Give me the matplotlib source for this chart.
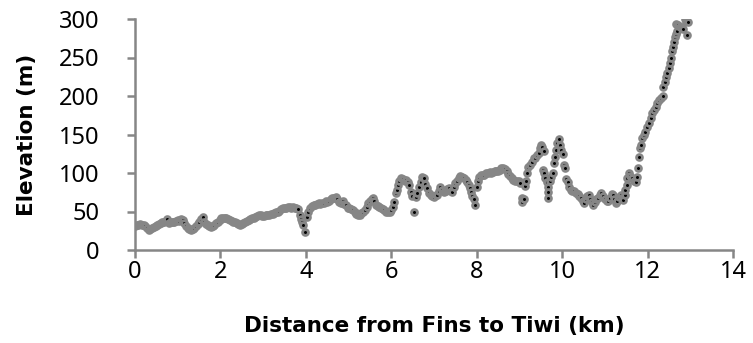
import matplotlib
matplotlib.use("Agg")
import matplotlib.pyplot as plt

distance_km = [
    0.00, 0.04, 0.08, 0.12, 0.16, 0.20, 0.24, 0.28, 0.32, 0.36, 0.40, 0.44, 0.48, 0.52, 0.56, 0.60,
    0.64, 0.68, 0.72, 0.76, 0.80, 0.84, 0.88, 0.92, 0.96, 1.00, 1.04, 1.08, 1.12, 1.15, 1.19, 1.23,
    1.27, 1.31, 1.35, 1.39, 1.43, 1.47, 1.51, 1.55, 1.59, 1.62, 1.66, 1.70, 1.74, 1.78, 1.82, 1.86,
    1.90, 1.94, 1.98, 2.02, 2.06, 2.10, 2.14, 2.18, 2.22, 2.26, 2.30, 2.34, 2.38, 2.42, 2.46, 2.50,
    2.54, 2.58, 2.62, 2.66, 2.70, 2.74, 2.78, 2.82, 2.86, 2.90, 2.94, 2.98, 3.02, 3.06, 3.10, 3.14,
    3.18, 3.22, 3.26, 3.30, 3.34, 3.38, 3.42, 3.46, 3.50, 3.54, 3.58, 3.62, 3.66, 3.70, 3.74, 3.78,
    3.82, 3.86, 3.89, 3.92, 3.94, 3.97, 4.02, 4.06, 4.10, 4.14, 4.18, 4.22, 4.26, 4.30, 4.34, 4.38,
    4.42, 4.46, 4.50, 4.54, 4.58, 4.62, 4.66, 4.70, 4.74, 4.78, 4.82, 4.86, 4.90, 4.94, 4.98, 5.02,
    5.06, 5.10, 5.14, 5.18, 5.22, 5.26, 5.30, 5.34, 5.38, 5.42, 5.46, 5.50, 5.54, 5.57, 5.60, 5.64,
    5.68, 5.72, 5.76, 5.80, 5.84, 5.88, 5.92, 5.96, 6.00, 6.04, 6.07, 6.10, 6.13, 6.16, 6.19, 6.23,
    6.27, 6.31, 6.35, 6.39, 6.42, 6.45, 6.49, 6.53, 6.57, 6.61, 6.65, 6.69, 6.73, 6.77, 6.80, 6.84,
    6.88, 6.92, 6.96, 7.00, 7.04, 7.08, 7.12, 7.15, 7.19, 7.23, 7.27, 7.31, 7.35, 7.39, 7.43, 7.47,
    7.50, 7.54, 7.58, 7.62, 7.66, 7.70, 7.74, 7.78, 7.81, 7.84, 7.87, 7.90, 7.93, 7.96, 8.00, 8.03,
    8.06, 8.10, 8.14, 8.18, 8.22, 8.26, 8.30, 8.34, 8.38, 8.42, 8.46, 8.50, 8.54, 8.58, 8.62, 8.66,
    8.70, 8.74, 8.78, 8.82, 8.86, 8.90, 8.94, 8.98, 9.02, 9.05, 9.07, 9.10, 9.12, 9.15, 9.18, 9.21,
    9.25, 9.29, 9.33, 9.37, 9.41, 9.45, 9.48, 9.51, 9.54, 9.57, 9.55, 9.58, 9.61, 9.64, 9.66, 9.68,
    9.67, 9.72, 9.75, 9.78, 9.80, 9.83, 9.86, 9.89, 9.92, 9.95, 9.98, 10.01, 10.04, 10.07, 10.10, 10.13,
    10.16, 10.20, 10.24, 10.28, 10.32, 10.36, 10.40, 10.44, 10.48, 10.51, 10.55, 10.59, 10.62, 10.66, 10.70, 10.73,
    10.77, 10.80, 10.84, 10.88, 10.92, 10.96, 11.00, 11.04, 11.08, 11.12, 11.16, 11.19, 11.22, 11.25, 11.29, 11.33,
    11.37, 11.40, 11.43, 11.46, 11.48, 11.51, 11.53, 11.56, 11.60, 11.64, 11.68, 11.72, 11.75, 11.77, 11.80, 11.83,
    11.85, 11.88, 11.92, 11.95, 11.99, 12.03, 12.07, 12.11, 12.15, 12.19, 12.23, 12.27, 12.31, 12.35, 12.37, 12.40,
    12.42, 12.45, 12.49, 12.53, 12.56, 12.58, 12.59, 12.61, 12.64, 12.67, 12.70, 12.66, 12.72, 12.76, 12.80, 12.84,
    12.87, 12.90, 12.93, 12.95,
]

elevation_m = [
    31, 32, 33, 34, 33, 32, 31, 28, 26, 27, 28, 30, 31, 32, 34, 35,
    36, 37, 38, 40, 35, 36, 36, 37, 38, 39, 38, 40, 39, 35, 31, 28,
    27, 26, 27, 28, 31, 34, 36, 40, 43, 36, 34, 32, 31, 30, 31, 33,
    35, 37, 39, 41, 41, 42, 41, 40, 39, 38, 37, 36, 35, 34, 33, 34,
    35, 37, 38, 39, 40, 41, 42, 43, 44, 45, 45, 44, 44, 45, 45, 46,
    47, 47, 48, 49, 50, 51, 53, 54, 55, 55, 56, 56, 55, 56, 55, 54,
    53, 45, 40, 36, 33, 23, 43, 50, 55, 57, 58, 59, 60, 61, 60, 61,
    61, 63, 62, 64, 66, 67, 68, 69, 66, 62, 61, 63, 60, 58, 55, 54,
    53, 52, 49, 47, 45, 46, 48, 50, 52, 56, 61, 64, 66, 68, 63, 58,
    57, 56, 55, 53, 52, 50, 49, 49, 52, 56, 62, 74, 78, 85, 90, 93,
    92, 90, 91, 88, 85, 75, 70, 49, 69, 74, 82, 88, 95, 94, 86, 80,
    74, 72, 70, 69, 72, 71, 76, 82, 78, 75, 77, 79, 80, 77, 75, 82,
    87, 90, 94, 96, 95, 93, 91, 88, 85, 80, 75, 70, 66, 58, 82, 90,
    95, 97, 97, 98, 100, 100, 101, 100, 101, 102, 103, 103, 104, 106, 107, 105,
    102, 99, 96, 94, 91, 90, 89, 90, 87, 68, 62, 66, 83, 89, 100, 108,
    111, 114, 119, 120, 123, 126, 133, 137, 134, 128, 104, 100, 94, 88, 82, 75,
    68, 90, 95, 100, 113, 121, 130, 139, 144, 136, 130, 125, 110, 107, 92, 88,
    82, 78, 77, 76, 74, 73, 70, 67, 64, 61, 66, 70, 72, 66, 62, 58,
    62, 66, 67, 72, 74, 70, 66, 64, 63, 68, 73, 72, 66, 61, 64, 69,
    72, 68, 65, 72, 78, 84, 93, 100, 96, 93, 90, 88, 95, 107, 121, 132,
    137, 145, 150, 153, 160, 165, 172, 178, 182, 186, 191, 195, 197, 200, 212, 218,
    225, 230, 236, 243, 250, 258, 264, 270, 276, 281, 285, 294, 292, 290, 289, 287,
    300, 298, 279, 296,
]

x_ticks = [0, 2, 4, 6, 8, 10, 12, 14]
y_ticks = [0, 50, 100, 150, 200, 250, 300]

plt.rcParams['font.family'] = ['Noto Sans', 'DejaVu Sans']

W, H = 753, 343
fig = plt.figure(figsize=(W / 100, H / 100), dpi=100)
ax = fig.add_axes([135 / W, 1 - 250 / H, 598 / W, 231 / H])

ax.plot(distance_km, elevation_m, linestyle='none', marker='o', markersize=4.2,
        markerfacecolor='black', markeredgecolor='#868686', markeredgewidth=2.0)

ax.set_xlim(0, 14)
ax.set_ylim(0, 300)
ax.set_xticks(x_ticks)
ax.set_yticks(y_ticks)
ax.tick_params(axis='both', colors='#868686', labelcolor='black', labelsize=17,
               length=5.5, width=1.8, direction='out')
ax.tick_params(axis='y', pad=20)
ax.tick_params(axis='x', pad=2)
for s in ['top', 'right']:
    ax.spines[s].set_visible(False)
for s in ['left', 'bottom']:
    ax.spines[s].set_color('#868686')
    ax.spines[s].set_linewidth(1.8)

fig.text(434 / W, 1 - 332 / H, 'Distance from Fins to Tiwi (km)', fontsize=15.5,
         fontweight='bold', family=['DejaVu Sans'], ha='center', va='baseline')
fig.text(26.5 / W, 1 - 134.5 / H, 'Elevation (m)', fontsize=15.5, fontweight='bold',
         family=['DejaVu Sans'], ha='center', va='center', rotation=90)

fig.savefig('out.png', dpi=100)
